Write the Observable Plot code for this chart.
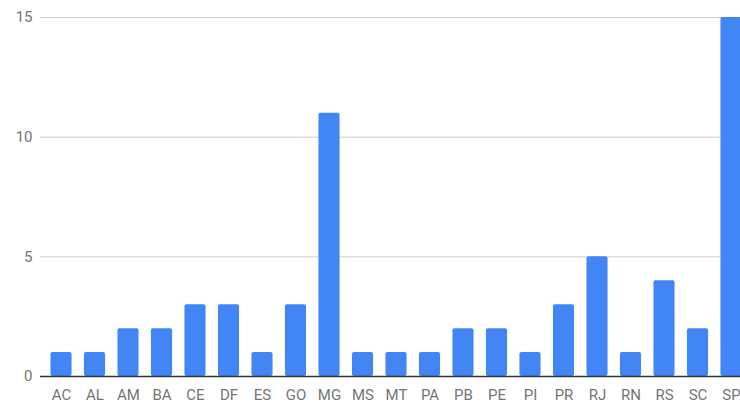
<!DOCTYPE html>
<html>
<head>
<meta charset="utf-8">
<script src="https://cdn.jsdelivr.net/npm/d3@7"></script>
<script src="https://cdn.jsdelivr.net/npm/@observablehq/plot@0.6"></script>
<style>
  html, body { margin: 0; padding: 0; background: #fff; overflow: hidden; }
  #chart svg { display: block; }
</style>
</head>
<body>
<div id="chart"></div>
<script>
const states = ["AC","AL","AM","BA","CE","DF","ES","GO","MG","MS","MT","PA","PB","PE","PI","PR","RJ","RN","RS","SC","SP"];
const counts = [1,1,2,2,3,3,1,3,11,1,1,1,2,2,1,3,5,1,4,2,15];
const yTicks = [0,5,10,15];

const data = states.map((s, i) => ({state: s, count: counts[i]}));

const chart = Plot.plot({
  width: 740,
  height: 404,
  marginLeft: 40,
  marginRight: 0,
  marginTop: 17,
  marginBottom: 28,
  style: {fontFamily: "Roboto, sans-serif", fontSize: "15px", color: "#757575", background: "#fff"},
  x: {domain: states, range: [44.25, 747.75], paddingInner: 0.37, paddingOuter: 0.185, round: false, label: null},
  y: {domain: [0, 15], ticks: yTicks, label: null},
  marks: [
    Plot.ruleY(yTicks.filter(d => d > 0), {stroke: "#cccccc", strokeWidth: 1}),
    Plot.barY(data, {x: "state", y: "count", fill: "#4285f4", rx: 2}),
    Plot.ruleY([0], {stroke: "#333333", strokeWidth: 1.5}),
    Plot.axisY({ticks: yTicks, tickSize: 0, tickPadding: 8, label: null, fill: "#757575", fontSize: 15}),
    Plot.axisX({tickSize: 0, tickPadding: 13, label: null, fill: "#757575", fontSize: 15})
  ]
});
document.getElementById("chart").appendChild(chart);
</script>
</body>
</html>
